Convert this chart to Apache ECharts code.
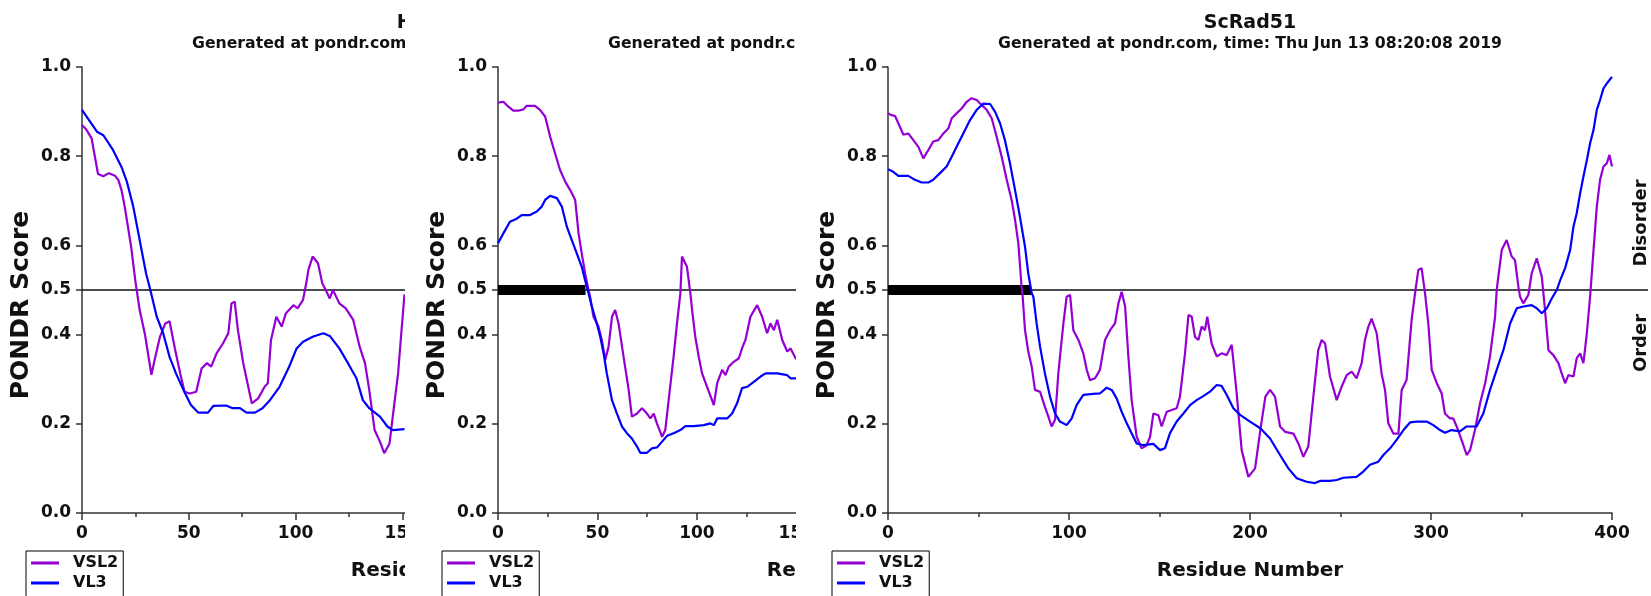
<!DOCTYPE html>
<html>
<head>
<meta charset="utf-8">
<title>PONDR VSL2 / VL3</title>
<script src="https://cdn.jsdelivr.net/npm/echarts@6/dist/echarts.min.js"></script>
<style>
html, body { margin: 0; padding: 0; background: #fff; }
#page { position: relative; width: 1651px; height: 596px; overflow: hidden; background: #fff; }
.panel_crop { position: absolute; top: 0; height: 596px; overflow: hidden; }
.panel_chart { position: absolute; left: 0; top: 0; width: 845px; height: 596px; }
</style>
</head>
<body>
<div id="page">
	<div class="panel_crop" style="left:0;width:405px;"><div class="panel_chart" id="hs_chart"></div></div>
	<div class="panel_crop" style="left:416px;width:380px;"><div class="panel_chart" id="sp_chart"></div></div>
	<div class="panel_crop" style="left:806px;width:845px;"><div class="panel_chart" id="sc_chart"></div></div>
</div>
<script>
// [residue, score]
var hs_vsl2 = [[0,0.87],[2,0.86],[4.5,0.84],[6,0.80],[7.5,0.76],[10,0.755],[12.5,0.762],[15.5,0.756],[17,0.747],[18.5,0.724],
	[20,0.687],[21.5,0.642],[23,0.597],[25,0.52],[27,0.455],[29.5,0.40],[32.5,0.31],[34,0.343],[36.5,0.395],[39,0.425],
	[41,0.43],[43.5,0.369],[46,0.313],[48,0.272],[50.5,0.268],[53.5,0.272],[56,0.324],[58.5,0.336],[60.5,0.328],[63,0.358],
	[66,0.38],[68.5,0.403],[70,0.47],[71.5,0.474],[73,0.41],[75.5,0.336],[77.5,0.291],[79.5,0.246],[82.5,0.257],[85.5,0.283],
	[87,0.291],[88.5,0.388],[91,0.44],[93.5,0.418],[95.5,0.448],[99,0.466],[101,0.459],[103.5,0.478],[105,0.515],[106,0.545],
	[108,0.575],[110.5,0.56],[112.5,0.515],[114.5,0.496],[116,0.481],[117.5,0.50],[118.5,0.49],[120.5,0.47],[123.5,0.459],[127,0.433],
	[130,0.373],[132.5,0.336],[134.5,0.276],[137,0.186],[139.5,0.16],[141.5,0.134],[144,0.156],[145.5,0.216],[148,0.313],[149.5,0.403],[151,0.49]];
var hs_vl3 = [[0,0.904],[7,0.855],[10,0.847],[14.5,0.814],[18.5,0.776],[21,0.743],[24,0.687],[27,0.612],[30,0.537],[32,0.50],
	[35,0.44],[38,0.403],[41,0.35],[44,0.313],[47.5,0.276],[51,0.242],[54.5,0.225],[59,0.225],[61.5,0.24],[67.5,0.241],
	[70.5,0.235],[74,0.235],[77,0.225],[81,0.225],[84.5,0.235],[88,0.253],[92.5,0.283],[97,0.328],[100.5,0.369],[103.5,0.384],
	[108,0.395],[113,0.403],[116,0.397],[120.5,0.369],[125,0.332],[128.5,0.302],[131.5,0.253],[134.5,0.235],[139.5,0.216],[143,0.194],
	[145.5,0.186],[151,0.188]];
var sp_vsl2 = [[0,0.92],[2.7,0.922],[5.2,0.911],[7.7,0.902],[10.2,0.902],[12.8,0.905],[14.4,0.913],[18.6,0.913],[21.1,0.904],[23.7,0.889],
	[26.2,0.844],[28.7,0.806],[31.2,0.769],[33.8,0.743],[36.3,0.724],[38.8,0.702],[40.5,0.627],[42.1,0.582],[43.8,0.537],[45.5,0.50],
	[46.3,0.485],[48,0.44],[50.5,0.418],[52.2,0.388],[53.9,0.343],[55.6,0.373],[57.3,0.44],[58.9,0.455],[60.6,0.425],[63.1,0.351],
	[65.7,0.276],[67.3,0.216],[69.9,0.223],[72.4,0.235],[74.9,0.223],[76.6,0.212],[78.3,0.223],[79.9,0.201],[82.5,0.171],[84.1,0.186],
	[85.8,0.253],[88.3,0.351],[90,0.425],[91.7,0.493],[92.5,0.575],[93.4,0.578],[95,0.552],[96.7,0.493],[97.6,0.455],[99.2,0.395],
	[100.9,0.351],[102.6,0.313],[105.1,0.283],[107.6,0.253],[108.5,0.242],[110.2,0.291],[112.7,0.321],[114.4,0.309],[116,0.328],[118.5,0.339],
	[121.1,0.347],[122.7,0.369],[124.4,0.388],[126.9,0.44],[130.3,0.466],[132.8,0.44],[135.3,0.403],[137,0.425],[138.7,0.41],[140.4,0.433],
	[142.9,0.388],[145.4,0.362],[147.1,0.369],[149.6,0.347],[152,0.34]];
var sp_vl3 = [[0,0.605],[2.7,0.627],[6,0.653],[9.4,0.66],[11.9,0.668],[16.1,0.668],[19.5,0.676],[22,0.687],[23.7,0.702],[26.2,0.711],
	[29.6,0.706],[32.1,0.687],[34.6,0.642],[37.1,0.612],[39.6,0.582],[42.1,0.552],[43.8,0.522],[45.5,0.493],[47.2,0.463],[49.7,0.425],
	[51.4,0.395],[53.1,0.358],[54.7,0.313],[57.3,0.253],[59.8,0.223],[62.3,0.194],[64.8,0.179],[67.3,0.167],[69.9,0.149],[71.5,0.135],
	[74.9,0.135],[77.4,0.145],[79.9,0.147],[82.5,0.16],[85,0.173],[88.3,0.179],[91.7,0.186],[94.2,0.195],[98.4,0.195],[103.4,0.197],
	[106.8,0.201],[108.5,0.197],[110.2,0.212],[115.2,0.212],[117.7,0.223],[120.2,0.246],[122.7,0.28],[125.3,0.283],[128.6,0.294],[132,0.306],
	[134.5,0.313],[140.4,0.313],[145.4,0.309],[147.1,0.302],[152,0.302]];
var sc_vsl2 = [[0,0.896],[2,0.892],[3.9,0.89],[5.7,0.874],[8.5,0.848],[11.2,0.851],[14,0.836],[16.8,0.821],[19.5,0.795],[22.3,0.814],
	[25,0.833],[27.8,0.836],[30.6,0.851],[33.3,0.862],[35.2,0.885],[37.9,0.896],[40.7,0.907],[43.5,0.922],[46.2,0.93],[49,0.926],
	[51.7,0.915],[54.5,0.904],[57.3,0.885],[60,0.844],[62.8,0.799],[65.6,0.747],[68.3,0.702],[70.2,0.657],[72,0.605],[73.8,0.507],
	[74.4,0.485],[75.7,0.41],[77.5,0.362],[79.4,0.328],[81.2,0.276],[84,0.272],[86.7,0.238],[88.6,0.216],[90.4,0.194],[92.3,0.209],
	[94.1,0.313],[96.9,0.425],[98.7,0.485],[100.6,0.489],[102.4,0.41],[105.2,0.388],[107.9,0.358],[109.8,0.321],[111.6,0.298],[114.4,0.302],
	[117.1,0.321],[119.9,0.388],[122.7,0.41],[125.4,0.425],[127.3,0.47],[129.1,0.496],[131,0.463],[132.8,0.351],[134.6,0.253],[137.4,0.171],
	[140.1,0.145],[142.9,0.152],[144.8,0.171],[146.6,0.223],[149.4,0.219],[151.2,0.194],[154,0.227],[156.7,0.231],[159.5,0.235],[161.3,0.261],
	[164.1,0.358],[166,0.444],[167.8,0.44],[169.6,0.395],[171.5,0.388],[173.3,0.418],[175.1,0.41],[176.4,0.44],[178.8,0.38],[181.6,0.351],
	[184.3,0.358],[187.1,0.354],[189.9,0.377],[192.6,0.27],[195.4,0.141],[199.1,0.081],[202.8,0.1],[205.7,0.186],[208.5,0.261],[211.1,0.276],
	[213.8,0.261],[216.6,0.194],[219.4,0.182],[224,0.178],[226.7,0.156],[229.5,0.126],[232.2,0.149],[235,0.261],[237.7,0.365],[239.6,0.388],
	[241.5,0.38],[244.2,0.306],[247.9,0.253],[250.6,0.283],[253.4,0.309],[256.2,0.317],[258.9,0.302],[261.7,0.336],[263.5,0.388],[265.4,0.418],
	[267.2,0.436],[270,0.403],[272.7,0.313],[274.6,0.276],[276.4,0.201],[279.2,0.178],[282,0.178],[283.8,0.276],[286.5,0.298],[289.3,0.433],
	[291.2,0.493],[293,0.545],[294.8,0.549],[296.7,0.493],[298.5,0.425],[300.4,0.321],[303.2,0.291],[305.9,0.268],[307.7,0.223],[310.5,0.212],
	[312.3,0.212],[314.2,0.194],[316.9,0.164],[319.7,0.13],[321.6,0.141],[324.3,0.186],[327.1,0.246],[329.9,0.291],[332.6,0.351],[335.4,0.44],
	[336.3,0.5],[337.2,0.53],[339.1,0.59],[341.8,0.612],[344.6,0.575],[346.4,0.567],[348.3,0.507],[349.2,0.485],[351,0.47],[353.8,0.489],
	[355.6,0.537],[358.4,0.571],[361.2,0.53],[362.1,0.493],[363,0.455],[364.9,0.365],[367.6,0.354],[370.4,0.336],[372.2,0.313],[374.1,0.291],
	[375.9,0.309],[378.7,0.306],[380.5,0.347],[382.4,0.358],[384.2,0.336],[386.1,0.403],[387.9,0.485],[389.8,0.59],[391.6,0.687],[393.4,0.747],
	[395.3,0.777],[397.1,0.784],[398.6,0.803],[400,0.777]];
var sc_vl3 = [[0,0.771],[2.9,0.765],[5.7,0.756],[11.2,0.756],[14.9,0.747],[18.6,0.741],[22.3,0.741],[25,0.747],[28.7,0.762],[32.4,0.777],
	[35.2,0.799],[37.9,0.821],[41.6,0.851],[45.3,0.881],[49,0.904],[52.7,0.918],[56.4,0.917],[59.1,0.9],[61.9,0.874],[64.6,0.836],
	[67.4,0.784],[70.2,0.724],[72.9,0.664],[75.7,0.597],[77.5,0.537],[79.4,0.493],[80.3,0.485],[82.1,0.425],[84,0.373],[86.7,0.313],
	[89.5,0.261],[92.3,0.223],[95,0.205],[98.7,0.197],[101.5,0.212],[104.2,0.242],[107.9,0.265],[113.4,0.267],[117.1,0.268],[120.8,0.281],
	[123.6,0.276],[126.3,0.257],[129.1,0.227],[131.9,0.201],[134.6,0.179],[137.4,0.156],[141.1,0.152],[146.6,0.155],[150.3,0.141],[153,0.145],
	[155.8,0.179],[159.5,0.205],[163.2,0.223],[166.9,0.242],[170.5,0.253],[174.2,0.262],[177.9,0.272],[181.6,0.287],[184.3,0.285],[187.1,0.265],
	[190.8,0.235],[194.5,0.22],[200,0.205],[205.7,0.19],[211.1,0.167],[216.6,0.13],[221.2,0.1],[225.8,0.078],[231.3,0.07],[235.9,0.067],
	[238.7,0.072],[244.2,0.072],[247.9,0.074],[251.6,0.079],[258.9,0.081],[262.6,0.093],[266.3,0.108],[270.9,0.115],[273.7,0.13],[277.4,0.145],
	[281,0.164],[284.8,0.186],[288.4,0.203],[292.1,0.205],[297.6,0.205],[301.3,0.197],[305,0.186],[307.7,0.18],[311.4,0.186],[316,0.183],
	[319.7,0.194],[325.2,0.194],[328.9,0.223],[332.6,0.276],[336.3,0.321],[340,0.365],[343.7,0.425],[347.4,0.459],[351,0.463],[355.6,0.466],
	[358.4,0.459],[361.2,0.448],[364,0.459],[366.7,0.481],[369.5,0.5],[371.4,0.522],[374.1,0.549],[376.9,0.59],[378.7,0.642],[380.5,0.672],
	[382.4,0.717],[384.2,0.754],[386.1,0.791],[387.9,0.829],[389.8,0.859],[391.6,0.904],[393.4,0.926],[395.3,0.952],[397.1,0.963],[400,0.978]];

// long disordered regions (start, end residue), drawn as the thick bar on 0.5
var sp_disorder_region = [0, 44];
var sc_disorder_region = [0, 79];

var protein_names = ['HsRad51', 'SpRhp51', 'ScRad51'];
var sequence_lengths = [339, 364, 400];
var x_tick_steps = [50, 50, 100];
var y_tick_values = [0, 0.2, 0.4, 0.5, 0.6, 0.8, 1.0];
var disorder_threshold = 0.5;
var generated_text = 'Generated at pondr.com, time: Thu Jun 13 08:20:08 2019';

var FONT = '"DejaVu Sans", "Liberation Sans", sans-serif';

function PondrPanel(dom_id, panel_info) {
	this.dom_id = dom_id;
	this.info = panel_info;
	this.chart = null;
}
PondrPanel.prototype.init = function () {
	this.chart = echarts.init(document.getElementById(this.dom_id));
	this.chart.setOption(this.build_option(), true);
};
// one VSL2 / VL3 panel
PondrPanel.prototype.build_option = function () {
	var info = this.info;
	var plot_left = 82, plot_top = 67, plot_width = 724, plot_height = 446;
	var plot_center = plot_left + plot_width / 2;
	var axis_color = '#333';
	var series = [];
	// threshold line runs a little past the x axis
	series.push({
		type: 'line', xAxisIndex: 1, yAxisIndex: 1, symbol: 'none', silent: true, z: 1,
		data: [[0, disorder_threshold], [1, disorder_threshold]],
		lineStyle: { color: '#111', width: 1.3 }
	});
	if (info.region) {
		series.push({
			type: 'line', xAxisIndex: 0, yAxisIndex: 0, symbol: 'none', silent: true, z: 1,
			data: [[info.region[0], disorder_threshold], [info.region[1], disorder_threshold]],
			lineStyle: { color: '#000', width: 10, cap: 'butt' }
		});
	}
	series.push({
		name: 'VSL2', type: 'line', xAxisIndex: 0, yAxisIndex: 0, symbol: 'none', z: 3,
		color: '#9400d3', itemStyle: { color: '#9400d3' },
		lineStyle: { color: '#9400d3', width: 2.2 },
		data: info.vsl2
	});
	series.push({
		name: 'VL3', type: 'line', xAxisIndex: 0, yAxisIndex: 0, symbol: 'none', z: 4,
		color: '#0000ff', itemStyle: { color: '#0000ff' },
		lineStyle: { color: '#0000ff', width: 2.2 },
		data: info.vl3
	});
	return {
		animation: false,
		legend: {
			data: ['VSL2', 'VL3'],
			orient: 'vertical', left: 26, top: 551, height: 120,
			icon: 'rect', itemWidth: 28, itemHeight: 3, itemGap: 4,
			padding: [4, 5, 30, 5],
			borderColor: '#000', borderWidth: 1,
			selectedMode: false,
			textStyle: { color: '#111', fontFamily: FONT, fontWeight: 'bold', fontSize: 16, padding: [0, 0, 0, 9] }
		},
		grid: [
			{ left: plot_left, top: plot_top, width: plot_width, height: plot_height, outerBoundsMode: 'none' },
			{ left: plot_left, top: plot_top, width: plot_width + 36, height: plot_height, outerBoundsMode: 'none' }
		],
		xAxis: [{
			type: 'value', gridIndex: 0, min: 0, max: info.length, interval: info.step,
			name: 'Residue Number', nameLocation: 'middle', nameGap: 48,
			nameTextStyle: { color: '#111', fontFamily: FONT, fontWeight: 'bold', fontSize: 20 },
			axisLine: { show: true, onZero: false, lineStyle: { color: axis_color, width: 1.5 } },
			axisTick: { show: true, length: 7, lineStyle: { color: axis_color, width: 1.5 } },
			minorTick: { show: true, splitNumber: 2, length: 4, lineStyle: { color: axis_color, width: 1.5 } },
			axisLabel: { margin: 12, color: '#111', fontFamily: FONT, fontWeight: 'bold', fontSize: 17 },
			splitLine: { show: false }
		}, {
			type: 'value', gridIndex: 1, min: 0, max: 1, show: false
		}],
		yAxis: [{
			type: 'value', gridIndex: 0, min: 0, max: 1,
			axisLine: { show: true, onZero: false, lineStyle: { color: axis_color, width: 1.5 } },
			axisTick: { show: true, length: 6, customValues: y_tick_values, lineStyle: { color: axis_color, width: 1.5 } },
			axisLabel: {
				customValues: y_tick_values, margin: 11,
				color: '#111', fontFamily: FONT, fontWeight: 'bold', fontSize: 17,
				formatter: function (v) { return v.toFixed(1); }
			},
			splitLine: { show: false }
		}, {
			type: 'value', gridIndex: 1, min: 0, max: 1, show: false
		}],
		graphic: [
			{ type: 'text', x: plot_center, y: 23, silent: true,
				style: { text: info.name, font: 'bold 19px ' + FONT, fill: '#111', align: 'center', verticalAlign: 'middle', textAlign: 'center', textVerticalAlign: 'middle' } },
			{ type: 'text', x: plot_center, y: 44, silent: true,
				style: { text: generated_text, font: 'bold 15.7px ' + FONT, fill: '#111', align: 'center', verticalAlign: 'middle', textAlign: 'center', textVerticalAlign: 'middle' } },
			{ type: 'text', x: 21, y: 305, rotation: Math.PI / 2, silent: true,
				style: { text: 'PONDR Score', font: 'bold 25px ' + FONT, fill: '#111', align: 'center', verticalAlign: 'middle', textAlign: 'center', textVerticalAlign: 'middle' } },
			{ type: 'text', x: 835, y: 223, rotation: Math.PI / 2, silent: true,
				style: { text: 'Disorder', font: 'bold 18px ' + FONT, fill: '#111', align: 'center', verticalAlign: 'middle', textAlign: 'center', textVerticalAlign: 'middle' } },
			{ type: 'text', x: 835, y: 343, rotation: Math.PI / 2, silent: true,
				style: { text: 'Order', font: 'bold 18px ' + FONT, fill: '#111', align: 'center', verticalAlign: 'middle', textAlign: 'center', textVerticalAlign: 'middle' } }
		],
		series: series
	};
};

var hs_panel = new PondrPanel('hs_chart', { name: protein_names[0], length: sequence_lengths[0], step: x_tick_steps[0], vsl2: hs_vsl2, vl3: hs_vl3, region: null });
var sp_panel = new PondrPanel('sp_chart', { name: protein_names[1], length: sequence_lengths[1], step: x_tick_steps[1], vsl2: sp_vsl2, vl3: sp_vl3, region: sp_disorder_region });
var sc_panel = new PondrPanel('sc_chart', { name: protein_names[2], length: sequence_lengths[2], step: x_tick_steps[2], vsl2: sc_vsl2, vl3: sc_vl3, region: sc_disorder_region });
hs_panel.init();
sp_panel.init();
sc_panel.init();
</script>
</body>
</html>
